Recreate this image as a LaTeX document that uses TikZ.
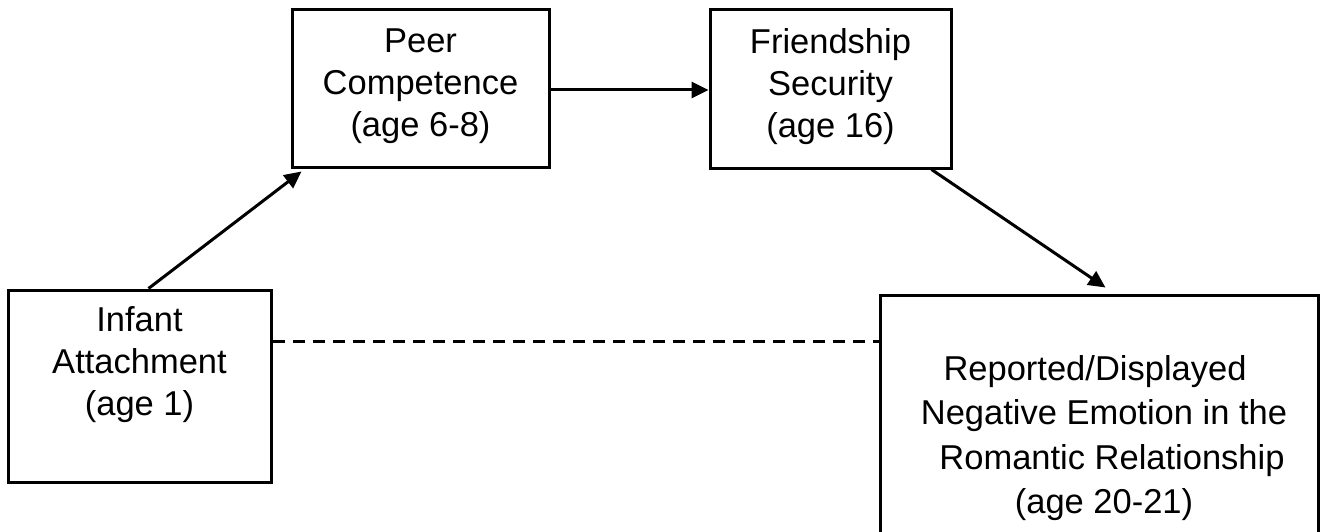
\documentclass[tikz,border=0pt]{standalone}
\usepackage{fontspec}
\setmainfont{Liberation Sans}
\usetikzlibrary{calc,arrows.meta}
\begin{document}
\begin{tikzpicture}[x=1pt,y=-1pt,
  box/.style={draw=black, line width=3pt, rectangle, inner sep=0pt, fill=white},
  txt/.style={align=center, font=\fontsize{34.5}{42}\selectfont, inner sep=0pt},
  arr/.style={line width=3pt, -{Triangle[length=17pt,width=16pt]}},
  dsh/.style={line width=3pt, dash pattern=on 12pt off 8pt}]
\useasboundingbox[fill=white] (0,0) rectangle (1324,532);
\node[box, minimum width=263pt, minimum height=192pt] (inf) at (139.5,386) {};
\node[txt] (inft) at (139.5,365) {Infant\\Attachment\\(age 1)};
\node[box, minimum width=257pt, minimum height=157pt] (peer) at (420.5,88.5) {};
\node[txt] (peert) at (420.5,86.5) {Peer\\Competence\\(age 6-8)};
\node[box, minimum width=241pt, minimum height=158pt] (fr) at (830.5,89) {};
\node[txt] (frt) at (830.5,87) {Friendship\\Security\\(age 16)};
\node[box, minimum width=438pt, minimum height=284pt] (rep) at (1099,437) {};
\node[txt, font=\fontsize{34.5}{44.5}\selectfont] (rept) at (1104,438) {Reported/Displayed\hspace*{18pt}\\Negative Emotion in the\\\hspace*{16pt}Romantic Relationship\\(age 20-21)};
\coordinate (a1) at ($(inf.north west)+(142,0)$);
\coordinate (a2) at ($(peer.south west)+(11,3)$);
\draw[arr] (a1) -- (a2);
\draw[arr] (peer.east |- 0,90) -- (fr.west |- 0,90);
\coordinate (b1) at ($(fr.south west)+(223,0)$);
\coordinate (b2) at ($(rep.north west)+(227,-6)$);
\draw[arr] (b1) -- (b2);
\coordinate (d1) at ($(inf.north east)+(0,53)$);
\draw[dsh] (d1) -- (d1 -| rep.west);
\end{tikzpicture}
\end{document}
